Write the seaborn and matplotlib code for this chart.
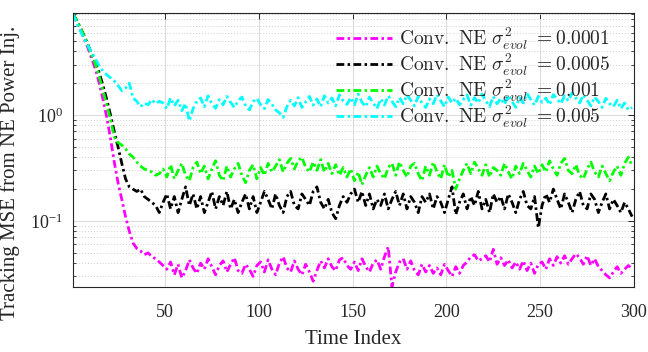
import numpy as np
import pandas as pd
import matplotlib
matplotlib.use("Agg")
import matplotlib.pyplot as plt
import seaborn as sns
from matplotlib.ticker import LogLocator, NullFormatter, FixedLocator
from matplotlib.font_manager import FontProperties

time_index = list(range(1, 301, 2))

mse_0001 = [9.0, 7.6, 6.4, 5.2, 4.3, 3.4, 2.7, 2.0, 1.4, 0.95,
            0.6, 0.36, 0.23, 0.16, 0.11, 0.08, 0.062, 0.055, 0.052, 0.048,
            0.05, 0.046, 0.044, 0.041, 0.038,
            0.035, 0.041, 0.031, 0.039, 0.029, 0.034, 0.043, 0.036, 0.032, 0.040,
            0.035, 0.044, 0.037, 0.031, 0.038, 0.042, 0.033, 0.039, 0.045, 0.034,
            0.032, 0.039, 0.035, 0.030, 0.038, 0.041, 0.033, 0.043, 0.035, 0.031,
            0.040, 0.046, 0.036, 0.033, 0.042, 0.035, 0.031, 0.039, 0.033, 0.027,
            0.034, 0.042, 0.036, 0.044, 0.037, 0.034, 0.043, 0.045, 0.038, 0.035,
            0.041, 0.034, 0.044, 0.037, 0.033, 0.040, 0.043, 0.035, 0.046, 0.057,
            0.024, 0.033, 0.041, 0.044, 0.035, 0.042, 0.034, 0.031, 0.039, 0.033,
            0.038, 0.032, 0.036, 0.031, 0.039, 0.034, 0.030, 0.037, 0.032, 0.038,
            0.041, 0.046, 0.048, 0.042, 0.044, 0.047, 0.041, 0.054, 0.039, 0.045,
            0.038, 0.043, 0.036, 0.041, 0.035, 0.042, 0.034, 0.040, 0.032, 0.039,
            0.041, 0.035, 0.044, 0.038, 0.046, 0.040, 0.047, 0.039, 0.044, 0.049,
            0.045, 0.039, 0.047, 0.038, 0.044, 0.037, 0.034, 0.031, 0.029, 0.033,
            0.037, 0.032, 0.035, 0.038, 0.035]

mse_0005 = [9.0, 7.8, 6.6, 5.6, 4.6, 3.8, 3.1, 2.5, 1.9, 1.4,
            1.0, 0.7, 0.5, 0.35, 0.25, 0.21, 0.2, 0.19, 0.2, 0.17,
            0.16, 0.15, 0.14, 0.12,
            0.15, 0.18, 0.13, 0.17, 0.12, 0.16, 0.21, 0.14, 0.18, 0.13,
            0.17, 0.12, 0.15, 0.19, 0.13, 0.17, 0.14, 0.19, 0.13, 0.16,
            0.12, 0.15, 0.18, 0.13, 0.17, 0.12, 0.15, 0.19, 0.16, 0.13,
            0.18, 0.14, 0.12, 0.17, 0.19, 0.14, 0.13, 0.18, 0.16, 0.14,
            0.19, 0.21, 0.15, 0.13, 0.16, 0.12, 0.105, 0.14, 0.17, 0.15,
            0.18, 0.20, 0.15, 0.19, 0.14, 0.18, 0.13, 0.16, 0.14, 0.18,
            0.13, 0.16, 0.19, 0.14, 0.18, 0.13, 0.17, 0.15, 0.12, 0.17,
            0.15, 0.18, 0.13, 0.17, 0.15, 0.12, 0.16, 0.21, 0.115, 0.15,
            0.18, 0.13, 0.17, 0.14, 0.19, 0.13, 0.16, 0.12, 0.18, 0.15,
            0.17, 0.13, 0.18, 0.15, 0.12, 0.16, 0.19, 0.14, 0.13, 0.17,
            0.086, 0.14, 0.18, 0.15, 0.20, 0.16, 0.13, 0.18, 0.15, 0.12,
            0.16, 0.19, 0.14, 0.13, 0.18, 0.16, 0.12, 0.15, 0.18, 0.13,
            0.16, 0.14, 0.12, 0.15, 0.13, 0.11]

mse_001 = [9.0, 7.8, 6.6, 5.5, 4.5, 3.7, 3.0, 2.3, 1.7, 1.25,
           0.9, 0.62, 0.55, 0.52, 0.48, 0.43, 0.40, 0.36, 0.33, 0.31,
           0.30, 0.29, 0.27, 0.28,
           0.31, 0.26, 0.34, 0.25, 0.30, 0.35, 0.27, 0.24, 0.32, 0.36,
           0.28, 0.33, 0.25, 0.31, 0.37, 0.27, 0.24, 0.33, 0.26, 0.31,
           0.35, 0.27, 0.23, 0.30, 0.34, 0.25, 0.32, 0.27, 0.35, 0.29,
           0.33, 0.38, 0.29, 0.35, 0.39, 0.31, 0.37, 0.40, 0.32, 0.29,
           0.36, 0.30, 0.38, 0.29, 0.35, 0.28, 0.34, 0.27, 0.32, 0.26,
           0.31, 0.24, 0.29, 0.22, 0.27, 0.32, 0.26, 0.33, 0.28, 0.25,
           0.32, 0.35, 0.27, 0.36, 0.30, 0.26, 0.33, 0.35, 0.28, 0.24,
           0.33, 0.27, 0.36, 0.29, 0.25, 0.34, 0.26, 0.30, 0.20, 0.25,
           0.30, 0.35, 0.28, 0.36, 0.31, 0.27, 0.34, 0.26, 0.32, 0.30,
           0.27, 0.35, 0.29, 0.25, 0.33, 0.28, 0.35, 0.30, 0.26, 0.33,
           0.28, 0.34, 0.29, 0.37, 0.31, 0.27, 0.35, 0.39, 0.30, 0.28,
           0.34, 0.27, 0.25, 0.31, 0.36, 0.29, 0.26, 0.33, 0.28, 0.24,
           0.29, 0.33, 0.27, 0.35, 0.40, 0.33]

mse_005 = [9.0, 7.4, 6.2, 5.2, 4.5, 3.9, 3.4, 2.9, 2.6, 2.4,
           2.25, 2.1, 1.9, 1.7, 1.8, 2.0, 1.45, 1.35, 1.2, 1.3,
           1.25, 1.4, 1.28, 1.35,
           1.30, 1.15, 1.45, 1.22, 1.38, 1.10, 1.28, 0.88, 1.15, 1.35,
           1.45, 1.20, 1.52, 1.28, 1.16, 1.40, 1.25, 1.50, 1.32, 1.18,
           1.36, 1.48, 1.22, 1.12, 1.34, 1.44, 1.25, 1.15, 1.40, 1.27,
           1.12, 1.05, 0.95, 1.20, 1.38, 1.22, 1.46, 1.18, 1.33, 1.50,
           1.24, 1.42, 1.20, 1.52, 1.30, 1.45, 1.22, 1.55, 1.36, 1.26,
           1.46, 1.25, 1.58, 1.32, 1.20, 1.48, 1.30, 1.15, 1.42, 1.24,
           1.52, 1.35, 1.20, 1.46, 1.28, 1.55, 1.38, 1.22, 1.50, 1.30,
           1.18, 1.42, 1.28, 1.56, 1.36, 1.20, 1.48, 1.30, 1.44, 1.25,
           1.40, 1.55, 1.24, 1.46, 1.30, 1.58, 1.36, 1.20, 1.50, 1.28,
           1.44, 1.26, 1.54, 1.34, 1.18, 1.46, 1.30, 1.60, 1.40, 1.24,
           1.50, 1.32, 1.45, 1.25, 1.56, 1.42, 1.28, 1.52, 1.36, 1.62,
           1.45, 1.30, 1.55, 1.38, 1.22, 1.48, 1.34, 1.18, 1.44, 1.28,
           1.20, 1.38, 1.15, 1.30, 1.12, 1.18]

series_labels = [r"$\mathrm{Conv.\ NE}\ \sigma^2_{evol}\ {=}0.0001$",
                 r"$\mathrm{Conv.\ NE}\ \sigma^2_{evol}\ {=}0.0005$",
                 r"$\mathrm{Conv.\ NE}\ \sigma^2_{evol}\ {=}0.001$",
                 r"$\mathrm{Conv.\ NE}\ \sigma^2_{evol}\ {=}0.005$"]
series_values = [mse_0001, mse_0005, mse_001, mse_005]
series_colors = ["#ff00ff", "#000000", "#00ff00", "#00ffff"]

sns.set_theme(style="white")
plt.rcParams["font.family"] = ["Liberation Serif", "DejaVu Serif"]
plt.rcParams["mathtext.fontset"] = "stix"

frames = []
for lab, vals in zip(series_labels, series_values):
    frames.append(pd.DataFrame({"t": time_index, "mse": vals, "series": lab}))
df = pd.concat(frames, ignore_index=True)

fig = plt.figure(figsize=(6.48, 3.52), dpi=100)
ax = fig.add_axes([73 / 648, 1 - 287 / 352, 561 / 648, 274 / 352])

sns.lineplot(data=df, x="t", y="mse", hue="series", hue_order=series_labels,
             palette=dict(zip(series_labels, series_colors)), linewidth=2.0,
             ax=ax, legend=False, estimator=None, sort=False)
lines = ax.get_lines()
for ln in lines:
    ln.set_dashes((2.8, 1.2, 0.9, 1.2))

ax.set_yscale("log")
ax.set_xlim(1, 300)
ax.set_ylim(0.0238, 9.2)

ax.xaxis.set_major_locator(FixedLocator([50, 100, 150, 200, 250, 300]))
ax.yaxis.set_major_locator(LogLocator(base=10))
ax.yaxis.set_minor_locator(LogLocator(base=10, subs=np.arange(2, 10)))
ax.yaxis.set_minor_formatter(NullFormatter())

ax.grid(True, which="major", axis="both", color="#dcdcdc", linewidth=0.8, linestyle="-")
ax.grid(True, which="minor", axis="y", color="#cfcfcf", linewidth=0.7, linestyle=(0, (1, 2)))
ax.set_axisbelow(True)

ax.tick_params(axis="both", which="both", direction="in", top=True, right=True,
               colors="#262626", labelcolor="#262626", labelsize=13)
ax.tick_params(axis="both", which="major", length=4, width=0.7)
ax.tick_params(axis="x", which="major", pad=12.5)
ax.tick_params(axis="y", which="major", pad=7)
ax.tick_params(axis="y", which="minor", length=2.5, width=0.6, left=True, right=True)
for sp in ax.spines.values():
    sp.set_color("#262626")
    sp.set_linewidth(0.8)

ax.set_xlabel("Time Index", fontsize=15, color="#262626", labelpad=6)
ax.set_ylabel("Tracking MSE from NE Power Inj.", fontsize=15, color="#262626")
ax.yaxis.set_label_coords(-0.094, 0.415)

leg_font = FontProperties(size=14, math_fontfamily="cm")
ax.legend(lines, series_labels, loc="upper left", bbox_to_anchor=(0.469, 0.955),
          frameon=False, prop=leg_font, handlelength=2.9, handletextpad=0.35,
          labelspacing=0.0, borderpad=0, borderaxespad=0)

fig.savefig("out.png", dpi=100)
